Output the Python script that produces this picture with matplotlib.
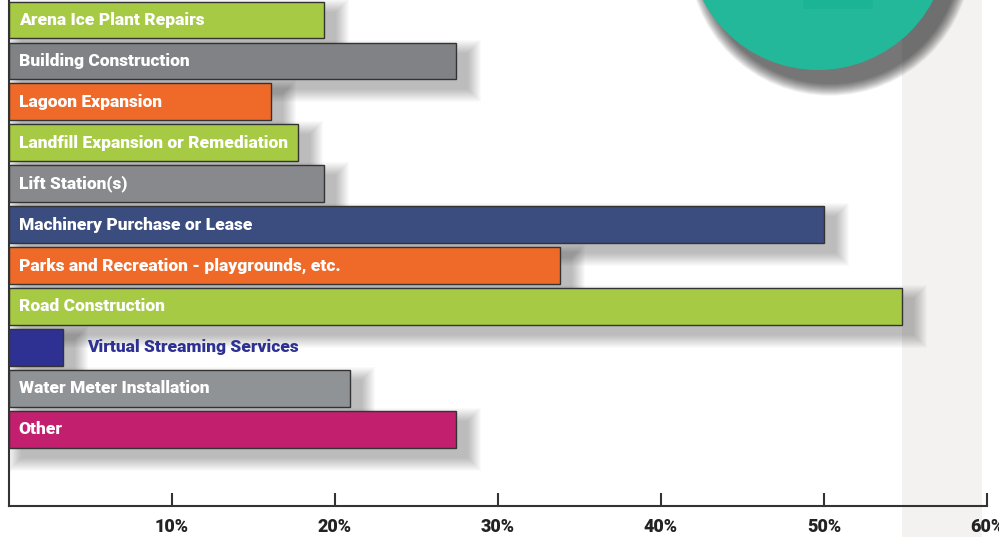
import matplotlib
matplotlib.use("Agg")
import matplotlib.pyplot as plt
from matplotlib.patches import Rectangle, Ellipse

# 数据（从图上读取，单位 %）
categories = [
    "Arena Ice Plant Repairs",
    "Building Construction",
    "Lagoon Expansion",
    "Landfill Expansion or Remediation",
    "Lift Station(s)",
    "Machinery Purchase or Lease",
    "Parks and Recreation - playgrounds, etc.",
    "Road Construction",
    "Virtual Streaming Services",
    "Water Meter Installation",
    "Other",
]
values = [19.3, 27.4, 16.1, 17.7, 19.3, 50.0, 33.8, 54.8, 3.3, 20.9, 27.4]
colors = ["#a6ca44", "#808285", "#ef6a28", "#a6ca44", "#87898c", "#3b4c7f",
          "#ef6a28", "#a6ca44", "#2e3192", "#909396", "#c21f6f"]
tick_vals = [10, 20, 30, 40, 50, 60]
tick_labels = ["10%", "20%", "30%", "40%", "50%", "60%"]

W, H, DPI = 999, 537, 100
fig = plt.figure(figsize=(W / DPI, H / DPI), dpi=DPI)
fig.patch.set_facecolor("white")

# 右侧浅灰竖条
fig.patches.append(Rectangle((902 / W, 0), 80 / W, 1, transform=fig.transFigure,
                             facecolor="#f3f2f0", edgecolor="none", zorder=-1))

ax = fig.add_axes([9 / W, (H - 506) / H, 978 / W, 506 / H])
ax.set_facecolor("none")
ax.set_xlim(0, 60)
ax.set_ylim(11.88, -0.49)

bar_h = 0.9
px_x = 978 / 60.0      # 每 1% 的像素
px_y = 506 / 12.37     # 每个类别单位的像素

# 阴影：多层半透明矩形模拟模糊
for i, v in enumerate(values):
    for k in range(14):
        sx = (k * 1.0) / px_x
        sy = (k * 1.0) / px_y
        ax.add_patch(Rectangle((12 / px_x - sx, i - bar_h / 2 + 10 / px_y - sy),
                               v + 2 * sx, bar_h + 2 * sy,
                               facecolor="black", edgecolor="none", alpha=0.018,
                               zorder=1))

ax.barh(range(len(values)), values, height=bar_h, color=colors,
        edgecolor="#333333", linewidth=1.0, zorder=2)

lab_font = dict(fontsize=12.5, fontweight="black", family="Roboto")
for i, (cat, v) in enumerate(zip(categories, values)):
    if cat == "Virtual Streaming Services":
        ax.text(4.8, i, cat, color="#2e3192", va="center", ha="left", zorder=3,
                **lab_font)
    else:
        ax.text(0.6, i, cat, color="white", va="center", ha="left", zorder=3,
                **lab_font)

for s in ["top", "right"]:
    ax.spines[s].set_visible(False)
for s in ["left", "bottom"]:
    ax.spines[s].set_color("#333333")
    ax.spines[s].set_linewidth(1.5)
ax.set_yticks([])
ax.set_xticks(tick_vals)
ax.set_xticklabels([])
ax.tick_params(axis="x", direction="in", length=9.5, width=1.5, color="#333333")
# 刻度文字按基线放置
for tv, tl in zip(tick_vals, tick_labels):
    ax.annotate(tl, xy=(tv, 0), xycoords=("data", "axes fraction"),
                xytext=(0, -19), textcoords="offset points",
                ha="center", va="baseline", fontsize=13, fontweight="black",
                family="Roboto", color="#222222", annotation_clip=False)

# 右上角绿色圆（装饰）
cx, cy, r = 818, -60, 130
for k in range(14):
    rr = r + k * 0.9
    fig.patches.append(Ellipse(((cx + 12) / W, 1 - (cy + 14) / H), 2 * rr / W, 2 * rr / H,
                               transform=fig.transFigure, facecolor="black",
                               edgecolor="none", alpha=0.05, zorder=5))
fig.patches.append(Ellipse((cx / W, 1 - cy / H), 2 * r / W, 2 * r / H,
                           transform=fig.transFigure, facecolor="#23b89a",
                           edgecolor="none", zorder=6))
fig.patches.append(Rectangle((803 / W, 1 - 9 / H), 70 / W, 9 / H,
                             transform=fig.transFigure, facecolor="#1bb595",
                             edgecolor="none", zorder=7))

fig.savefig("out.png", dpi=DPI)
